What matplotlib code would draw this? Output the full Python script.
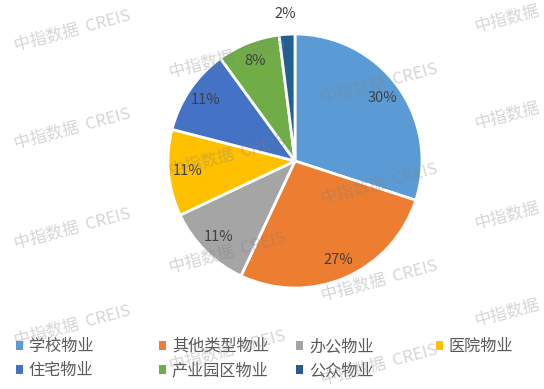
import matplotlib
matplotlib.use("Agg")
import matplotlib.pyplot as plt
from matplotlib.patches import Patch
import numpy as np

plt.rcParams['font.family'] = ['Noto Sans CJK SC', 'DejaVu Sans']

# data
categories = ['学校物业', '其他类型物业', '办公物业', '医院物业', '住宅物业', '产业园区物业', '公众物业']
shares = [30, 27, 11, 11, 11, 8, 2]
colors = ['#5B9BD5', '#ED7D31', '#A5A5A5', '#FFC000', '#4472C4', '#70AD47', '#255E91']

W, H = 544, 389
fig = plt.figure(figsize=(W / 100, H / 100), dpi=100)
fig.patch.set_facecolor('white')

# pie axes, centre ~(295,161) px, radius ~127 px
cx, cy, r = 295, 161, 127
ax = fig.add_axes([(cx - r) / W, 1 - (cy + r) / H, 2 * r / W, 2 * r / H])
wedges, _ = ax.pie(shares, colors=colors, startangle=90, counterclock=False,
                   wedgeprops=dict(edgecolor='white', linewidth=2))
ax.set_xlim(-1, 1)
ax.set_ylim(-1, 1)

# percentage labels
for w, v in zip(wedges, shares):
    ang = np.deg2rad((w.theta1 + w.theta2) / 2)
    d = 0.85 if v > 5 else 1.16
    ax.text(d * np.cos(ang), d * np.sin(ang), f'{v}%', ha='center', va='center',
            fontsize=10.5, color='#404040')

# legend: 4 columns laid out by hand
handles = [Patch(facecolor=c, edgecolor='none') for c in colors]
cols = [[0, 4], [1, 5], [2, 6], [3]]
col_x = [16, 159, 296, 436]
for idx, x in zip(cols, col_x):
    leg = fig.legend([handles[i] for i in idx], [categories[i] for i in idx],
                     loc='upper left', bbox_to_anchor=(x / W, 1 - 338 / H),
                     frameon=False, fontsize=11.6, handlelength=0.45, handleheight=0.45,
                     handletextpad=0.35, labelspacing=0.45, borderpad=0, borderaxespad=0)
    for t in leg.get_texts():
        t.set_color('#595959')

# watermarks
wm_x = [72, 227, 379]
wm_y = [[30, 128, 228, 325], [57, 155, 252, 350], [83, 183, 280, 364]]
for x, ys in zip(wm_x, wm_y):
    for y in ys:
        fig.text(x / W, 1 - y / H, '中指数据  CREIS', ha='center', va='center',
                 rotation=15, fontsize=12, color='#808080', alpha=0.33, zorder=10)
# right edge column: only the Chinese part shows
for y in [18, 115, 215, 312]:
    fig.text(507 / W, 1 - y / H, '中指数据', ha='center', va='center',
             rotation=15, fontsize=12, color='#808080', alpha=0.33, zorder=10)

fig.savefig('out.png', dpi=100)
